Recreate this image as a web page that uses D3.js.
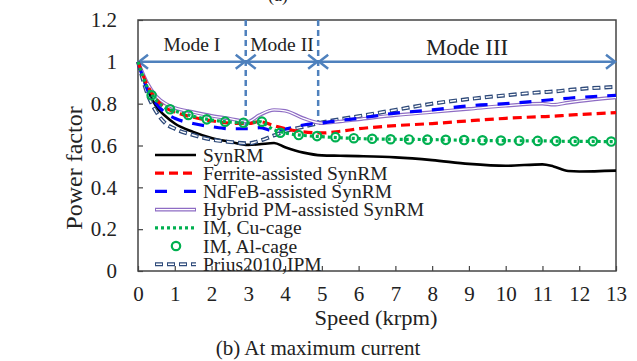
<!DOCTYPE html>
<html>
<head>
<meta charset="utf-8">
<script src="https://cdn.jsdelivr.net/npm/d3@7"></script>
<style>
  body { margin: 0; background: #fff; }
  svg text { font-family: "Liberation Serif", "Times New Roman", serif; fill: #222; }
</style>
</head>
<body>
<script>
// power factor vs speed, at maximum current

var speeds = [0, 0.25, 0.5, 0.75, 1, 1.5, 2, 2.5, 3, 3.3, 3.7, 4, 4.5, 5, 5.5, 6, 7, 8, 9, 10, 11, 11.3, 11.7, 12, 13];

var synRM    = [1, 0.87, 0.785, 0.74, 0.705, 0.665, 0.636, 0.618, 0.603, 0.606, 0.612, 0.592, 0.566, 0.553, 0.551, 0.549, 0.543, 0.53, 0.512, 0.503, 0.51, 0.5, 0.478, 0.476, 0.48];
var ferrite  = [1, 0.89, 0.82, 0.78, 0.76, 0.735, 0.718, 0.707, 0.705, 0.714, 0.695, 0.68, 0.665, 0.66, 0.668, 0.68, 0.695, 0.705, 0.718, 0.73, 0.738, 0.74, 0.745, 0.748, 0.757];
var ndfeb    = [1, 0.87, 0.8, 0.755, 0.73, 0.705, 0.69, 0.68, 0.68, 0.685, 0.67, 0.678, 0.698, 0.708, 0.72, 0.73, 0.755, 0.77, 0.79, 0.8, 0.815, 0.82, 0.826, 0.83, 0.84];
var hybrid   = [1, 0.9, 0.835, 0.8, 0.78, 0.76, 0.742, 0.728, 0.715, 0.745, 0.77, 0.766, 0.73, 0.707, 0.715, 0.725, 0.745, 0.76, 0.775, 0.79, 0.8, 0.795, 0.805, 0.812, 0.83];
var imCu     = [1, 0.88, 0.815, 0.78, 0.765, 0.74, 0.722, 0.712, 0.708, 0.714, 0.675, 0.66, 0.648, 0.642, 0.637, 0.633, 0.63, 0.628, 0.625, 0.623, 0.622, 0.621, 0.62, 0.62, 0.618];
var prius    = [1, 0.85, 0.76, 0.705, 0.68, 0.65, 0.628, 0.617, 0.61, 0.622, 0.648, 0.668, 0.69, 0.71, 0.726, 0.74, 0.77, 0.8, 0.822, 0.84, 0.855, 0.858, 0.865, 0.87, 0.88];

// IM, Al-cage markers
var alSpeeds = [0.37, 0.87, 1.37, 1.87, 2.37, 2.87, 3.37, 3.87, 4.37, 4.87, 5.37, 5.87, 6.37, 6.87, 7.37, 7.87, 8.37, 8.87, 9.37, 9.87, 10.37, 10.87, 11.37, 11.87, 12.37, 12.87];
var alPF     = [0.84, 0.773, 0.746, 0.725, 0.714, 0.709, 0.714, 0.661, 0.65, 0.645, 0.64, 0.635, 0.632, 0.63, 0.629, 0.628, 0.627, 0.626, 0.625, 0.624, 0.623, 0.622, 0.621, 0.62, 0.62, 0.619];

var xTicks = [0, 1, 2, 3, 4, 5, 6, 7, 8, 9, 10, 11, 12, 13];
var yTicks = [0, 0.2, 0.4, 0.6, 0.8, 1, 1.2];

var modeNames = ["Mode I", "Mode II", "Mode III"];
var modeBounds = [0, 2.93, 4.9, 13];
var dividerEnds = [0.69, 0.71];

var svgWidth = 637, svgHeight = 361;
var margin = { top: 20, right: 21, bottom: 90, left: 138 };
var width = svgWidth - margin.left - margin.right;
var height = svgHeight - margin.top - margin.bottom;

var svg = d3.select("body").append("svg")
  .attr("width", svgWidth)
  .attr("height", svgHeight);

var chartGroup = svg.append("g").attr("transform", `translate(${margin.left}, ${margin.top})`);

var xScale = d3.scaleLinear().domain([0, 13]).range([0, width]);
var yScale = d3.scaleLinear().domain([0, 1.2]).range([height, 0]);

// axes, ticks point inward
var xAxis = d3.axisBottom(xScale).tickValues(xTicks).tickSize(-5).tickPadding(15).tickFormat(d3.format("d"));
var yAxis = d3.axisLeft(yScale).tickValues(yTicks).tickSize(-5).tickPadding(21).tickFormat(d => d);

var gx = chartGroup.append("g").attr("transform", `translate(0, ${height})`).call(xAxis);
var gy = chartGroup.append("g").call(yAxis);
[gx, gy].forEach(function (g) {
  g.select(".domain").remove();
  g.selectAll("line").attr("stroke", "#444").attr("stroke-width", 1.2);
  g.selectAll("text").style("font-size", "21px").style("font-family", "Liberation Serif").attr("fill", "#222");
});

chartGroup.append("rect")
  .attr("width", width).attr("height", height)
  .attr("fill", "none").attr("stroke", "#444").attr("stroke-width", 1.5);

// mode dividers and arrows
var modeColor = "#4f81bd";
modeBounds.slice(1, 3).forEach(function (b, i) {
  chartGroup.append("line")
    .attr("x1", xScale(b)).attr("x2", xScale(b))
    .attr("y1", 0).attr("y2", yScale(dividerEnds[i]))
    .attr("stroke", modeColor).attr("stroke-width", 2.5)
    .attr("stroke-dasharray", "6,4");
});

var ay = yScale(1);
for (var i = 0; i < 3; i++) {
  var xa = xScale(modeBounds[i]) + 1, xb = xScale(modeBounds[i + 1]) - 1;
  chartGroup.append("line")
    .attr("x1", xa).attr("x2", xb).attr("y1", ay).attr("y2", ay)
    .attr("stroke", modeColor).attr("stroke-width", 2.5);
  chartGroup.append("path")
    .attr("d", `M${xa + 9},${ay - 7}L${xa},${ay}L${xa + 9},${ay + 7}M${xb - 9},${ay - 7}L${xb},${ay}L${xb - 9},${ay + 7}`)
    .attr("fill", "none").attr("stroke", modeColor).attr("stroke-width", 2.5);
  chartGroup.append("text")
    .attr("x", (xScale(modeBounds[i]) + xScale(modeBounds[i + 1])) / 2)
    .attr("y", i == 2 ? 35 : 31)
    .attr("text-anchor", "middle")
    .style("font-size", i == 2 ? "23px" : "19.5px")
    .text(modeNames[i]);
}

// curves
var line = d3.line()
  .x(d => xScale(d[0]))
  .y(d => yScale(d[1]))
  .curve(d3.curveMonotoneX);

function pairs(vals) { return speeds.map((s, i) => [s, vals[i]]); }

chartGroup.append("path").attr("d", line(pairs(synRM)))
  .attr("fill", "none").attr("stroke", "#000").attr("stroke-width", 2.6);

chartGroup.append("path").attr("d", line(pairs(prius)))
  .attr("fill", "none").attr("stroke", "#2e4a7a").attr("stroke-width", 4).attr("stroke-dasharray", "8,4");
chartGroup.append("path").attr("d", line(pairs(prius)))
  .attr("fill", "none").attr("stroke", "#fff").attr("stroke-width", 1.4).attr("stroke-dasharray", "6,6").attr("stroke-dashoffset", -1);

chartGroup.append("path").attr("d", line(pairs(hybrid)))
  .attr("fill", "none").attr("stroke", "#8e6cc4").attr("stroke-width", 3.6);
chartGroup.append("path").attr("d", line(pairs(hybrid)))
  .attr("fill", "none").attr("stroke", "#fff").attr("stroke-width", 1.3);

chartGroup.append("path").attr("d", line(pairs(ndfeb)))
  .attr("fill", "none").attr("stroke", "#0000ff").attr("stroke-width", 3.2).attr("stroke-dasharray", "12,10");

chartGroup.append("path").attr("d", line(pairs(ferrite)))
  .attr("fill", "none").attr("stroke", "#ff0000").attr("stroke-width", 3.2).attr("stroke-dasharray", "9,5");

chartGroup.append("path").attr("d", line(pairs(imCu)))
  .attr("fill", "none").attr("stroke", "#00b050").attr("stroke-width", 3.2).attr("stroke-dasharray", "3,3");

chartGroup.selectAll("circle.al")
  .data(alSpeeds.map((s, i) => [s, alPF[i]]))
  .enter().append("circle")
  .attr("class", "al")
  .attr("cx", d => xScale(d[0]))
  .attr("cy", d => yScale(d[1]))
  .attr("r", 4.2)
  .attr("fill", "none")
  .attr("stroke", "#00b050")
  .attr("stroke-width", 2.2);

// legend
var legendItems = [
  { name: "SynRM", kind: "syn" },
  { name: "Ferrite-assisted SynRM", kind: "fer" },
  { name: "NdFeB-assisted SynRM", kind: "nd" },
  { name: "Hybrid PM-assisted SynRM", kind: "hyb" },
  { name: "IM, Cu-cage", kind: "cu" },
  { name: "IM, Al-cage", kind: "al" },
  { name: "Prius2010,IPM", kind: "pr" }
];
var legend = svg.append("g");
legendItems.forEach(function (item, i) {
  var y = 155 + i * 18.2;
  var x1 = 155, x2 = 196;
  if (item.kind == "syn") {
    legend.append("line").attr("x1", x1).attr("x2", x2).attr("y1", y).attr("y2", y).attr("stroke", "#000").attr("stroke-width", 2.6);
  } else if (item.kind == "fer") {
    legend.append("line").attr("x1", x1).attr("x2", x2).attr("y1", y).attr("y2", y).attr("stroke", "#ff0000").attr("stroke-width", 3.2).attr("stroke-dasharray", "9,5");
  } else if (item.kind == "nd") {
    legend.append("line").attr("x1", x1).attr("x2", x2).attr("y1", y).attr("y2", y).attr("stroke", "#0000ff").attr("stroke-width", 3.2).attr("stroke-dasharray", "12,17");
  } else if (item.kind == "hyb") {
    legend.append("line").attr("x1", x1).attr("x2", x2).attr("y1", y).attr("y2", y).attr("stroke", "#8e6cc4").attr("stroke-width", 3.6);
    legend.append("line").attr("x1", x1 + 1).attr("x2", x2 - 1).attr("y1", y).attr("y2", y).attr("stroke", "#fff").attr("stroke-width", 1.3);
  } else if (item.kind == "cu") {
    legend.append("line").attr("x1", x1).attr("x2", x2).attr("y1", y).attr("y2", y).attr("stroke", "#00b050").attr("stroke-width", 3.2).attr("stroke-dasharray", "3,3");
  } else if (item.kind == "al") {
    legend.append("circle").attr("cx", 176).attr("cy", y).attr("r", 4.2).attr("fill", "none").attr("stroke", "#00b050").attr("stroke-width", 2.2);
  } else {
    legend.append("line").attr("x1", x1).attr("x2", x2).attr("y1", y).attr("y2", y).attr("stroke", "#2e4a7a").attr("stroke-width", 4).attr("stroke-dasharray", "8,4");
    legend.append("line").attr("x1", x1).attr("x2", x2).attr("y1", y).attr("y2", y).attr("stroke", "#fff").attr("stroke-width", 1.4).attr("stroke-dasharray", "6,6").attr("stroke-dashoffset", -1);
  }
  legend.append("text").attr("x", 203).attr("y", y + 6.5).style("font-size", "19.5px").text(item.name);
});

// axis titles and captions
svg.append("text")
  .attr("transform", "rotate(-90)")
  .attr("x", -168)
  .attr("y", 82)
  .attr("text-anchor", "middle")
  .style("font-size", "24px")
  .text("Power factor");

svg.append("text")
  .attr("x", 376)
  .attr("y", 325)
  .attr("text-anchor", "middle")
  .attr("textLength", 123)
  .attr("lengthAdjust", "spacingAndGlyphs")
  .style("font-size", "21px")
  .text("Speed (krpm)");

svg.append("text")
  .attr("x", 318)
  .attr("y", 355)
  .attr("text-anchor", "middle")
  .style("font-size", "21px")
  .text("(b) At maximum current");

svg.append("text")
  .attr("x", 278)
  .attr("y", 1)
  .attr("text-anchor", "middle")
  .style("font-size", "18px")
  .text("(a)");
</script>
</body>
</html>
